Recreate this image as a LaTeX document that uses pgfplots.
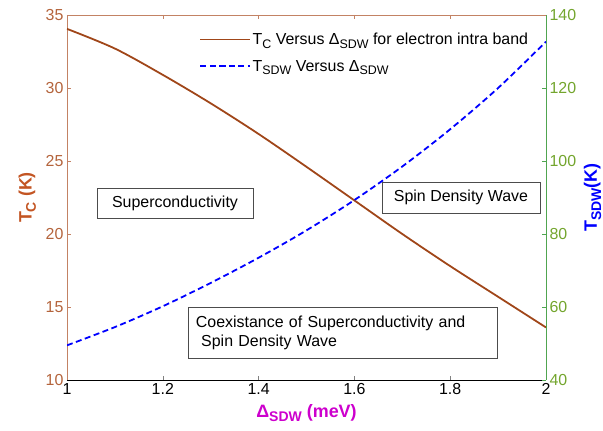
\documentclass[border=0pt]{standalone}
\usepackage{fontspec}
\setmainfont{Liberation Sans}
\usepackage{graphicx}
\usepackage{pgfplots}
\pgfplotsset{compat=1.18}
\usetikzlibrary{calc}

\definecolor{tcline}{RGB}{160,70,25}
\definecolor{tcaxis}{RGB}{195,130,100}
\definecolor{tctick}{RGB}{180,100,60}
\definecolor{tclabel}{RGB}{195,85,35}
\definecolor{sdwaxis}{RGB}{80,165,80}
\definecolor{sdwtick}{RGB}{115,165,45}
\definecolor{xlab}{RGB}{205,0,205}

% lowered subscript
\newcommand\sub[1]{\raisebox{-0.45ex}{\scalebox{0.78}{#1}}}

\pgfplotstableread{
d     tc
1.00  34.05
1.10  32.70
1.20  30.90
1.30  28.95
1.40  26.85
1.50  24.60
1.60  22.30
1.70  20.00
1.80  17.80
1.90  15.70
2.00  13.60
}\tcdata

\pgfplotstableread{
d     tsdw
1.00  49.5
1.10  54.5
1.20  60.2
1.30  66.6
1.40  73.5
1.50  81.0
1.60  89.3
1.70  98.5
1.80  108.7
1.90  120.0
2.00  132.7
}\sdwdata

\pgfplotsset{
  base/.style={
    scale only axis, width=479bp, height=365bp,
    xmin=1, xmax=2,
    font=\fontsize{16}{19}\selectfont,
    tick align=inside,
    /pgf/number format/assume math mode=true,
    tick style={line width=0.6pt},
    xtick={1,1.2,1.4,1.6,1.8,2},
  },
}

\begin{document}
\begin{tikzpicture}
\begin{axis}[base, name=main,
  ymin=10, ymax=35,
  axis y line*=left,
  axis x line*=bottom,
  xticklabels={1,1.2,1.4,1.6,1.8,2},
  ytick={10,15,...,35},
  y axis line style={tcaxis, line width=0.8pt},
  y tick style={tcaxis},
  y tick label style={tctick},
  x axis line style={black, line width=0.8pt},
  xlabel={\bfseries\fontsize{18}{21}\selectfont\color{xlab}Δ\sub{SDW} (meV)},
  xlabel style={yshift=-3bp},
  ylabel={\bfseries\fontsize{18}{21}\selectfont\color{tclabel}T\sub{C} (K)},
  ylabel style={yshift=3bp},
]
\addplot[tcline, line width=1.8pt, smooth] table[x=d, y=tc] {\tcdata};

\node[draw=black!70, line width=0.8pt, minimum width=156bp, minimum height=30bp,
  inner sep=0pt] at (axis cs:1.2255,22.12) {Superconductivity};
\node[draw=black!70, line width=0.8pt, minimum width=158bp, minimum height=31bp,
  inner sep=0pt] at (axis cs:1.8225,22.5) {Spin Density Wave};
\node[draw=black!70, line width=0.8pt, minimum width=309bp, minimum height=51bp,
  inner sep=0pt, align=left, text width=293bp] at (axis cs:1.575,13.25)
  {Coexistance of Superconductivity and\\\ Spin Density Wave};
\end{axis}

\begin{axis}[base,
  ymin=40, ymax=140,
  axis y line*=right,
  axis x line*=top,
  xticklabels={},
  x axis line style={tcaxis, line width=0.8pt},
  x tick style={tcaxis},
  ytick={40,60,...,140},
  y axis line style={sdwaxis, line width=0.8pt},
  y tick style={sdwaxis},
  y tick label style={sdwtick},
  ylabel={\bfseries\fontsize{18}{21}\selectfont\color{blue}T\sub{SDW}(K)},
  ylabel style={yshift=-1bp},
  legend style={draw=none, fill=none, at={(0.27,0.962)}, anchor=north west,
    font=\fontsize{16}{19}\selectfont, row sep=10bp},
  legend cell align=left,
  legend image post style={xscale=2.9},
]
\addlegendimage{tcline, line width=1.8pt}
\addlegendentry{T\sub{C} Versus Δ\sub{SDW} for electron intra band}
\addlegendimage{blue, line width=1.8pt, dash pattern=on 6bp off 3.5bp}
\addlegendentry{T\sub{SDW} Versus Δ\sub{SDW}}
\addplot[blue, line width=1.8pt, dash pattern=on 6bp off 3.5bp, smooth, forget plot]
  table[x=d, y=tsdw] {\sdwdata};
\end{axis}

\pgfresetboundingbox
\path ($(main.south west)+(-67bp,-51bp)$) rectangle ($(main.north east)+(57bp,15bp)$);
\end{tikzpicture}
\end{document}
